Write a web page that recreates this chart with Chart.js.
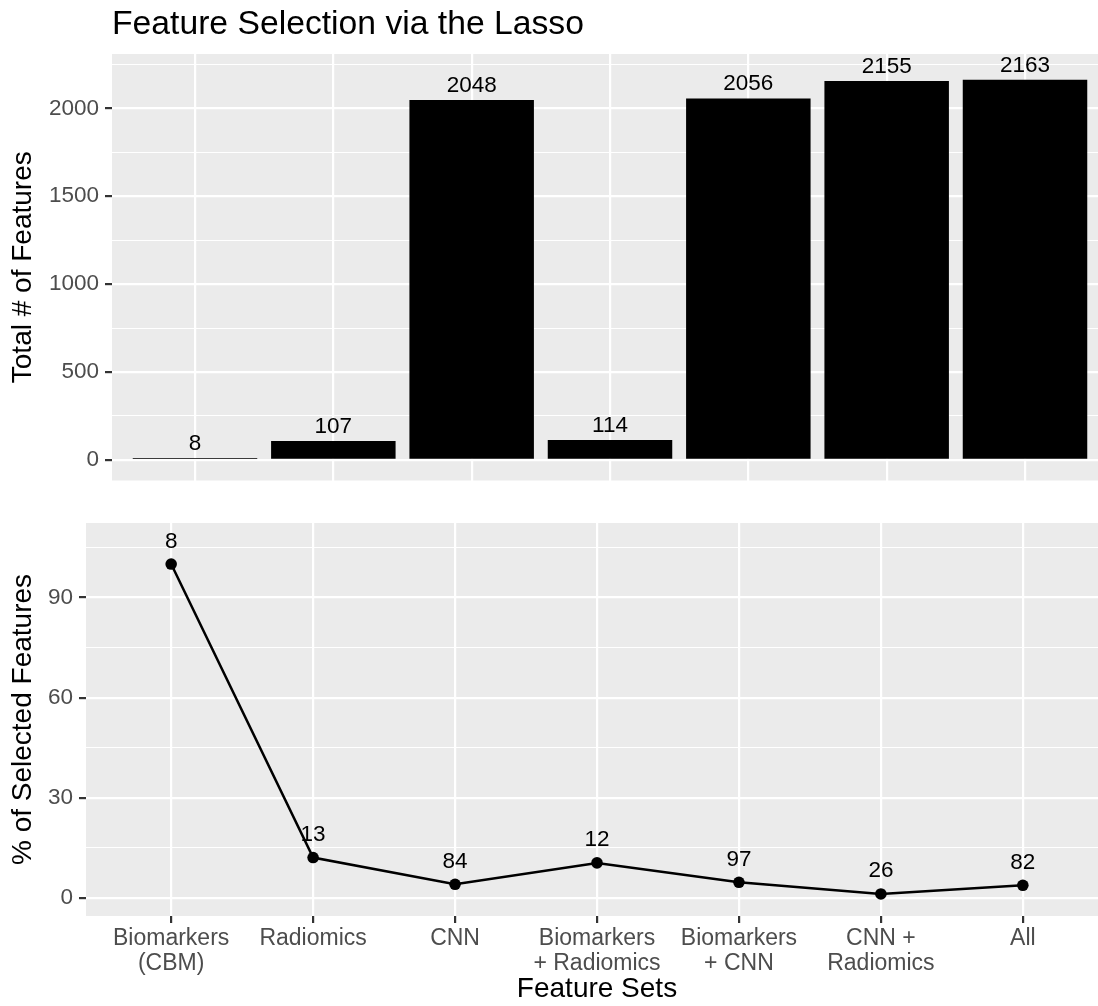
<!DOCTYPE html>
<html lang="en">
<head>
  <meta charset="UTF-8">
  <title>Feature Selection via the Lasso</title>
  <script src="https://cdn.jsdelivr.net/npm/chart.js"></script>
  <style>
    html, body {
      margin: 0;
      padding: 0;
      background: #ffffff;
      overflow: hidden;
    }
    #topBox {
      position: absolute;
      left: 0;
      top: 0;
      width: 1120px;
      height: 500px;
    }
    #bottomBox {
      position: absolute;
      left: 0;
      top: 500px;
      width: 1120px;
      height: 506px;
    }
  </style>
</head>
<body>
  <div id="topBox"><canvas id="countChart"></canvas></div>
  <div id="bottomBox"><canvas id="pctChart"></canvas></div>

  <script>
    // values
    const featureSets = [['Biomarkers', '(CBM)'], 'Radiomics', 'CNN', ['Biomarkers', '+ Radiomics'], ['Biomarkers', '+ CNN'], ['CNN +', 'Radiomics'], 'All'];
    const totalFeatures = [8, 107, 2048, 114, 2056, 2155, 2163];
    const selectedFeatures = [8, 13, 84, 12, 97, 26, 82];
    const selectedPct = [100, 12.1, 4.1, 10.5, 4.7, 1.2, 3.8];
    const countMajorTicks = [0, 500, 1000, 1500, 2000];
    const countMinorTicks = [250, 750, 1250, 1750, 2250];
    const pctMajorTicks = [0, 30, 60, 90];
    const pctMinorTicks = [15, 45, 75, 105];

    const FONT = '"Liberation Sans", Arial, Helvetica, sans-serif';
    Chart.defaults.font.family = FONT;
    Chart.defaults.animation = false;

    // grey ggplot panel
    const panelBg = {
      id: 'panelBg',
      beforeDraw(chart) {
        const { ctx, chartArea: a } = chart;
        ctx.save();
        ctx.fillStyle = '#EBEBEB';
        ctx.fillRect(a.left, a.top, a.right - a.left, a.bottom - a.top);
        ctx.restore();
      }
    };

    // numbers above bars / points
    const valueLabels = {
      id: 'valueLabels',
      afterDatasetsDraw(chart, args, opts) {
        const { ctx } = chart;
        const meta = chart.getDatasetMeta(0);
        ctx.save();
        ctx.font = '22.5px ' + FONT;
        ctx.fillStyle = '#000000';
        ctx.textAlign = 'center';
        ctx.textBaseline = 'alphabetic';
        meta.data.forEach((el, i) => {
          ctx.fillText(String(opts.labels[i]), el.x, el.y - opts.gap);
        });
        ctx.restore();
      }
    };

    const plotTitle = {
      id: 'plotTitle',
      afterDraw(chart, args, opts) {
        if (!opts.text) return;
        const { ctx } = chart;
        ctx.save();
        ctx.font = '33.7px ' + FONT;
        ctx.fillStyle = '#000000';
        ctx.textAlign = 'left';
        ctx.textBaseline = 'alphabetic';
        ctx.fillText(opts.text, chart.chartArea.left, opts.baseline);
        ctx.restore();
      }
    };

    function yAxis(major, minor, min, max, width, titleText) {
      const isMajor = c => c.tick && major.includes(c.tick.value);
      return {
        type: 'linear',
        min: min,
        max: max,
        afterBuildTicks: s => {
          s.ticks = major.concat(minor).sort((a, b) => a - b).map(v => ({ value: v }));
        },
        afterFit: s => { s.width = width; },
        ticks: {
          autoSkip: false,
          color: '#4D4D4D',
          font: { size: 22.5 },
          padding: 6,
          callback: v => major.includes(v) ? String(v) : ''
        },
        grid: {
          color: '#FFFFFF',
          lineWidth: c => isMajor(c) ? 2.2 : 1.1,
          tickColor: c => isMajor(c) ? '#333333' : 'rgba(0,0,0,0)',
          tickWidth: 2.2,
          tickLength: 7
        },
        border: { display: false },
        title: {
          display: true,
          text: titleText,
          color: '#000000',
          font: { size: 28, lineHeight: 1.2 },
          padding: { top: 6, bottom: 0 }
        }
      };
    }

    const categoryTicks = s => {
      s.ticks = featureSets.map((_, i) => ({ value: i }));
    };

    new Chart(document.getElementById('countChart'), {
      type: 'bar',
      data: {
        datasets: [{
          data: totalFeatures.map((v, i) => ({ x: i, y: v })),
          backgroundColor: '#000000',
          borderWidth: 0,
          minBarLength: 2,
          categoryPercentage: 0.9,
          barPercentage: 1.0
        }]
      },
      plugins: [panelBg, valueLabels, plotTitle],
      options: {
        responsive: true,
        maintainAspectRatio: false,
        layout: { padding: { top: 54, right: 12, left: 0, bottom: 0 } },
        plugins: {
          legend: { display: false },
          tooltip: { enabled: false },
          valueLabels: { labels: totalFeatures, gap: 8 },
          plotTitle: { text: 'Feature Selection via the Lasso', baseline: 33.5 }
        },
        scales: {
          x: {
            type: 'linear',
            offset: false,
            min: -0.6,
            max: 6.6,
            afterBuildTicks: categoryTicks,
            afterFit: s => { s.height = 12; },
            ticks: { display: false },
            grid: { offset: false, color: '#FFFFFF', lineWidth: 2.2, drawTicks: false },
            border: { display: false }
          },
          y: yAxis(countMajorTicks, countMinorTicks, -117, 2309, 112, 'Total # of Features')
        }
      }
    });

    new Chart(document.getElementById('pctChart'), {
      type: 'line',
      data: {
        datasets: [{
          data: selectedPct.map((v, i) => ({ x: i, y: v })),
          borderColor: '#000000',
          borderWidth: 2.5,
          pointRadius: 5.8,
          pointBackgroundColor: '#000000',
          pointBorderWidth: 0,
          tension: 0
        }]
      },
      plugins: [panelBg, valueLabels],
      options: {
        responsive: true,
        maintainAspectRatio: false,
        layout: { padding: { top: 23, right: 12, left: 0, bottom: 0 } },
        plugins: {
          legend: { display: false },
          tooltip: { enabled: false },
          valueLabels: { labels: selectedFeatures, gap: 16.5 }
        },
        scales: {
          x: {
            type: 'linear',
            offset: false,
            min: -0.6,
            max: 6.6,
            afterBuildTicks: categoryTicks,
            afterFit: s => { s.height = 90; },
            ticks: {
              autoSkip: false,
              maxRotation: 0,
              color: '#4D4D4D',
              font: { size: 23, lineHeight: 1.1 },
              padding: 3,
              callback: v => featureSets[v]
            },
            grid: {
              color: '#FFFFFF',
              lineWidth: 2.2,
              tickColor: '#333333',
              tickWidth: 2.2,
              tickLength: 7
            },
            border: { display: false },
            title: {
              display: true,
              text: 'Feature Sets',
              color: '#000000',
              font: { size: 28, lineHeight: 1.2 },
              padding: { top: 0, bottom: 0 }
            }
          },
          y: yAxis(pctMajorTicks, pctMinorTicks, -5.4, 112.3, 86, '% of Selected Features')
        }
      }
    });
  </script>
</body>
</html>
